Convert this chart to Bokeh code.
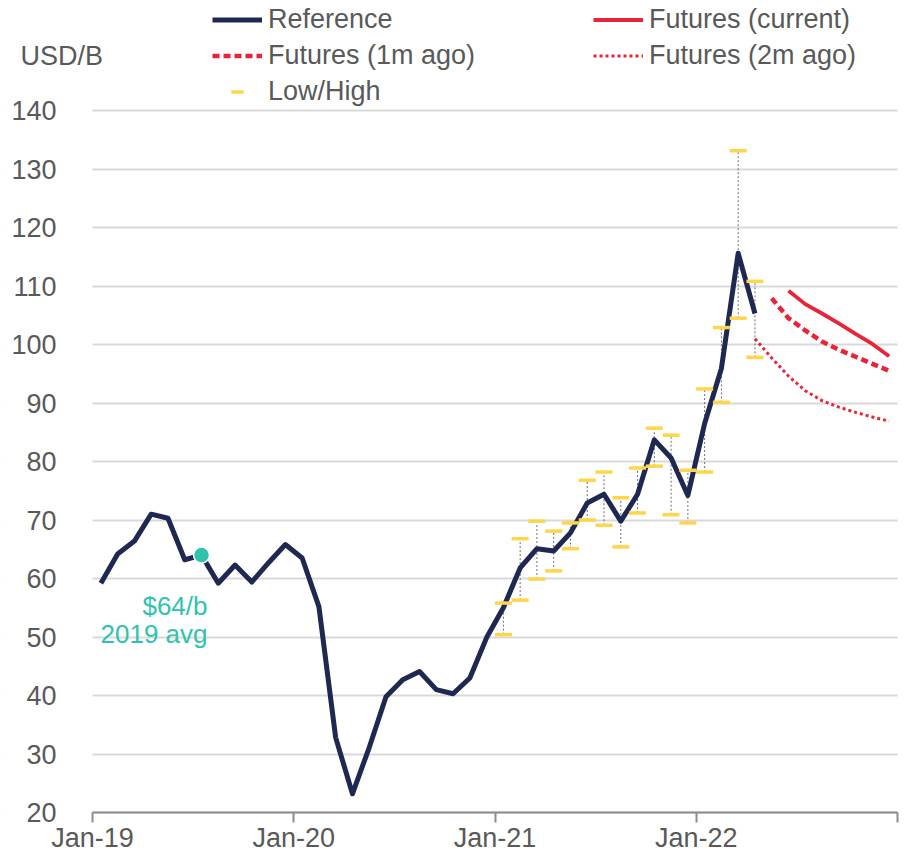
import pandas as pd
from bokeh.plotting import figure
from bokeh.models import (FixedTicker, Legend, LegendItem, Label, Range1d,
                          ColumnDataSource, BoxAnnotation)
from bokeh.embed import file_html
from bokeh.resources import INLINE

# ---------------- data ----------------
ref_start = "2019-01"
ref_values = [59.2, 64.2, 66.4, 71.0, 70.3, 63.2, 64.0, 59.2, 62.3, 59.4, 62.7, 65.8,
              63.5, 55.2, 32.8, 23.2, 31.1, 39.8, 42.7, 44.1, 41.0, 40.3, 43.0, 49.9,
              55.0, 61.8, 65.1, 64.7, 67.8, 72.9, 74.4, 69.8, 74.4, 83.7, 80.6, 74.2,
              86.5, 95.9, 115.6, 105.3]

lh_start = "2021-01"
low_values = [50.4, 56.3, 59.9, 61.3, 65.1, 70.0, 69.1, 65.4, 71.2, 79.2, 70.9, 69.5,
              78.2, 90.1, 104.5, 97.8]
high_values = [55.8, 66.8, 69.8, 68.1, 69.5, 76.8, 78.2, 73.8, 78.9, 85.7, 84.5, 78.5,
               92.4, 102.9, 133.1, 110.8]

fut_cur_start = "2022-06"
fut_cur_values = [109.2, 106.9, 105.3, 103.6, 101.8, 100.1, 98.0]
fut_1m_start = "2022-05"
fut_1m_values = [107.9, 104.5, 102.4, 100.5, 99.1, 97.9, 96.7, 95.5]
fut_2m_start = "2022-04"
fut_2m_values = [101.0, 97.7, 94.6, 92.1, 90.4, 89.3, 88.4, 87.6, 86.9]

avg_month = "2019-07"
avg_value = 64.0
avg_labels = ["$64/b", "2019 avg"]

tick_months = [0, 12, 24, 36, 48]
tick_labels = ["Jan-19", "Jan-20", "Jan-21", "Jan-22", ""]
y_ticks = [20, 30, 40, 50, 60, 70, 80, 90, 100, 110, 120, 130, 140]
X_MIN, X_MAX = 0, 48
Y_MIN, Y_MAX = 20, 140


def month_pos(start, n):
    t0 = pd.Timestamp(start)
    base = (t0.year - 2019) * 12 + (t0.month - 1)
    return [base + i + 0.5 for i in range(n)]


# ---------------- layout / style ----------------
W, H = 902, 852
PX_L, PX_R, PX_B, PX_T = 92, 897, 812, 110   # pixel positions of the plot area
pxm = (PX_R - PX_L) / (X_MAX - X_MIN)
pxv = (PX_B - PX_T) / (Y_MAX - Y_MIN)


def dx(px):
    return X_MIN + (px - PX_L) / pxm


def dy(py):
    return Y_MIN + (PX_B - py) / pxv


FONT = "Liberation Sans"
FS = "27px"
GREY = "#595959"
NAVY = "#1f2850"
RED = "#e8243b"
YELLOW = "#fdd64a"
TEAL = "#30c2ae"

p = figure(width=W, height=H, output_backend="svg", toolbar_location=None,
           x_range=Range1d(dx(0), dx(W)), y_range=Range1d(dy(H), dy(0)),
           min_border=0, min_border_left=0, min_border_right=0,
           min_border_top=0, min_border_bottom=0)
p.outline_line_color = None
p.background_fill_color = "white"
p.border_fill_color = "white"

p.xgrid.visible = False
p.ygrid.ticker = FixedTicker(ticks=y_ticks)
p.ygrid.grid_line_color = "#d9d9d9"
p.ygrid.grid_line_width = 2

# keep grid lines inside the data area
p.add_layout(BoxAnnotation(right=X_MIN, fill_color="white", fill_alpha=1,
                           line_color=None, level="underlay"))
p.add_layout(BoxAnnotation(left=X_MAX, fill_color="white", fill_alpha=1,
                           line_color=None, level="underlay"))

ya = p.yaxis[0]
ya.fixed_location = X_MIN
ya.ticker = FixedTicker(ticks=y_ticks)
ya.axis_line_color = None
ya.major_tick_line_color = None
ya.minor_tick_line_color = None
ya.major_label_standoff = 30
ya.major_label_text_font = FONT
ya.major_label_text_font_size = FS
ya.major_label_text_color = GREY

xa = p.xaxis[0]
xa.fixed_location = Y_MIN
xa.bounds = (X_MIN, X_MAX)
xa.ticker = FixedTicker(ticks=tick_months)
xa.major_label_overrides = {m: l for m, l in zip(tick_months, tick_labels)}
xa.axis_line_color = "#8c8c8c"
xa.axis_line_width = 2
xa.major_tick_line_color = "#8c8c8c"
xa.major_tick_line_width = 2
xa.major_tick_in = 0
xa.major_tick_out = 10
xa.minor_tick_line_color = None
xa.major_label_standoff = 0
xa.major_label_text_font = FONT
xa.major_label_text_font_size = FS
xa.major_label_text_color = GREY

# low/high whiskers
lh_x = month_pos(lh_start, len(low_values))
lh_src = ColumnDataSource(dict(x=lh_x, low=low_values, high=high_values))
p.segment(x0="x", y0="low", x1="x", y1="high", source=lh_src,
          line_color="#6e6e6e", line_width=1, line_dash="2 2")

# reference line
r_ref = p.line(month_pos(ref_start, len(ref_values)), ref_values,
               line_color=NAVY, line_width=5, line_join="round")

# futures
r_cur = p.line(month_pos(fut_cur_start, len(fut_cur_values)), fut_cur_values,
               line_color=RED, line_width=3.8)
r_1m = p.line(month_pos(fut_1m_start, len(fut_1m_values)), fut_1m_values,
              line_color=RED, line_width=4.5, line_dash="7 4")
r_2m = p.line(month_pos(fut_2m_start, len(fut_2m_values)), fut_2m_values,
              line_color=RED, line_width=3, line_dash="3 3")

# caps
r_lo = p.scatter("x", "low", source=lh_src, marker="dash", size=17,
                 line_color=YELLOW, line_width=3.5)
r_hi = p.scatter("x", "high", source=lh_src, marker="dash", size=17,
                 line_color=YELLOW, line_width=3.5)

# 2019 average
p.scatter(month_pos(avg_month, 1), [avg_value], size=16, fill_color=TEAL,
          line_color="white", line_width=1.5)
p.add_layout(Label(x=dx(207), y=dy(605), text=avg_labels[0], text_align="right",
                   text_baseline="alphabetic", text_font=FONT, text_font_size="26px",
                   text_color=TEAL))
p.add_layout(Label(x=dx(207), y=dy(633), text=avg_labels[1], text_align="right",
                   text_baseline="alphabetic", text_font=FONT, text_font_size="26px",
                   text_color=TEAL))

# unit label
p.add_layout(Label(x=dx(20), y=dy(55), text="USD/B", text_align="left",
                   text_baseline="middle", text_font=FONT, text_font_size=FS,
                   text_color=GREY))

legend = Legend(items=[
    LegendItem(label="Reference", renderers=[r_ref]),
    LegendItem(label="Futures (current)", renderers=[r_cur]),
    LegendItem(label="Futures (1m ago)", renderers=[r_1m]),
    LegendItem(label="Futures (2m ago)", renderers=[r_2m]),
    LegendItem(label="Low/High", renderers=[r_lo]),
], location=(212, H - 107), orientation="horizontal", ncols=2,
    label_text_font=FONT, label_text_font_size=FS, label_text_color=GREY,
    glyph_width=50, glyph_height=31, label_height=31, label_width=320,
    label_standoff=6, spacing=5, padding=0, margin=0,
    border_line_color=None, background_fill_alpha=0)
p.add_layout(legend)

open("out.html", "w").write(file_html(p, INLINE))
